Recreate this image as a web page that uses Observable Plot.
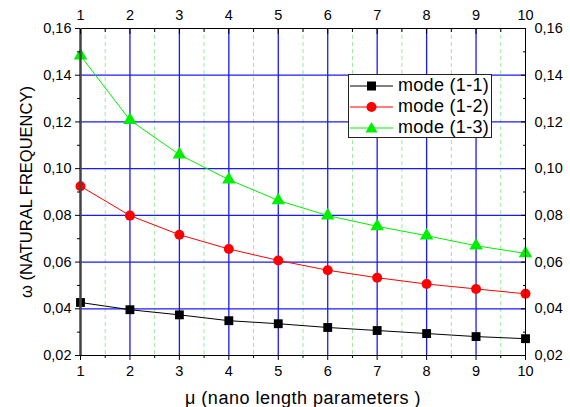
<!DOCTYPE html>
<html><head><meta charset="utf-8">
<script src="https://cdn.jsdelivr.net/npm/d3@7"></script>
<script src="https://cdn.jsdelivr.net/npm/@observablehq/plot@0.6"></script>
<style>
body{margin:0;background:#fff;font-family:"Liberation Sans",Arial,sans-serif;}
#wrap{position:relative;width:570px;height:407px;}
#legend{position:absolute;left:348px;top:74px;width:142px;height:62px;border:1px solid #222;background:#fff;font-size:18px;letter-spacing:0.3px;box-sizing:content-box;}
#legend .row{display:flex;align-items:center;height:21px;}
#legend svg{margin-left:1px;margin-right:5px;}
.xlab{letter-spacing:0.5px;}
</style>
</head><body><div id="wrap"></div>
<script>
const mu = [1,2,3,4,5,6,7,8,9,10];
const mode11 = [0.0427,0.0396,0.0374,0.0349,0.0336,0.0320,0.0307,0.0294,0.0281,0.0272];
const mode12 = [0.0925,0.0799,0.0717,0.0656,0.0607,0.0565,0.0533,0.0506,0.0485,0.0464];
const mode13 = [0.1484,0.1208,0.1060,0.0953,0.0864,0.0799,0.0753,0.0713,0.0670,0.0637];
const seriesNames = ["mode (1-1)","mode (1-2)","mode (1-3)"];
const seriesColors = ["#000000","#ff0000","#00ee00"];
const seriesSymbols = ["square","circle","triangle"];
const xTicks = [1,2,3,4,5,6,7,8,9,10];
const yTicks = [0.02,0.04,0.06,0.08,0.10,0.12,0.14,0.16];
const yMinor = [0.03,0.05,0.07,0.09,0.11,0.13,0.15];
const xMinor = [1.5,2.5,3.5,4.5,5.5,6.5,7.5,8.5,9.5];
const xLabel = "μ (nano length parameters )";
const yLabel = "ω (NATURAL FREQUENCY)";

const allSeries = [mode11,mode12,mode13];
const data = [];
allSeries.forEach((arr,i)=>arr.forEach((v,j)=>data.push({mu:mu[j],w:v,s:seriesNames[i]})));
const fmt = d => d3.format(".2f")(d).replace(".",",");

const plot = Plot.plot({
  width:570, height:407,
  marginLeft:80, marginRight:45, marginTop:28, marginBottom:52,
  style:{fontFamily:"Liberation Sans, Arial, sans-serif", fontSize:"14.5px", color:"#000", background:"#fff"},
  x:{domain:[1,10]},
  y:{domain:[0.02,0.16]},
  color:{domain:seriesNames, range:seriesColors},
  symbol:{domain:seriesNames, range:seriesSymbols},
  marks:[
    Plot.ruleX(xMinor,{stroke:"#9be89b",strokeDasharray:"4,3",strokeWidth:1}),
    Plot.ruleX(xTicks.slice(1,-1),{stroke:"#1a1aff",strokeWidth:1.3}),
    Plot.ruleY(yTicks.slice(1,-1),{stroke:"#1a1aff",strokeWidth:1.3}),
    Plot.line(data,{x:"mu",y:"w",stroke:"s",z:"s",strokeWidth:1}),
    Plot.dot(data,{x:"mu",y:"w",fill:"s",symbol:"s",r:5}),
    Plot.frame({stroke:"#000",strokeWidth:1}),
    Plot.ruleX([1],{stroke:"#444",strokeWidth:2.5}),
    Plot.axisY({anchor:"left",ticks:yTicks,tickFormat:fmt,tickSize:5,tickPadding:4,label:null}),
    Plot.axisY({anchor:"left",ticks:yMinor,tickFormat:()=>"",tickSize:3,label:null}),
    Plot.axisY({anchor:"right",ticks:yTicks,tickFormat:fmt,tickSize:-5,tickPadding:14,label:null}),
    Plot.axisY({anchor:"right",ticks:yMinor,tickFormat:()=>"",tickSize:-3,label:null}),
    Plot.axisX({anchor:"bottom",ticks:xTicks,tickFormat:d=>String(d),tickSize:5,tickPadding:5,label:null}),
    Plot.axisX({anchor:"bottom",ticks:xMinor,tickFormat:()=>"",tickSize:3,label:null}),
    Plot.axisX({anchor:"top",ticks:xTicks,tickFormat:d=>String(d),tickSize:-5,tickPadding:14,label:null}),
    Plot.axisX({anchor:"top",ticks:xMinor,tickFormat:()=>"",tickSize:-3,label:null}),
    Plot.text([xLabel],{text:d=>d,frameAnchor:"bottom",dy:43,lineAnchor:"middle",fontSize:18,className:"xlab"}),
    Plot.text([yLabel],{text:d=>d,frameAnchor:"left",dx:-54,rotate:-90,textAnchor:"middle",lineAnchor:"middle",fontSize:16.5})
  ]
});
const wrap = document.getElementById("wrap");
wrap.appendChild(plot);

const legend = document.createElement("div");
legend.id = "legend";
seriesNames.forEach((n,i)=>{
  const row = document.createElement("div");
  row.className="row";
  const c = seriesColors[i];
  let sym;
  if(seriesSymbols[i]==="square") sym = `<rect x="17" y="5.5" width="9" height="9" fill="${c}"/>`;
  else if(seriesSymbols[i]==="circle") sym = `<circle cx="21.5" cy="10" r="5" fill="${c}"/>`;
  else sym = `<polygon points="21.5,4 27.5,14.5 15.5,14.5" fill="${c}"/>`;
  row.innerHTML = `<svg width="43" height="20"><line x1="0" x2="43" y1="10" y2="10" stroke="${c}" stroke-width="1"/>${sym}</svg><span>${n}</span>`;
  legend.appendChild(row);
});
wrap.appendChild(legend);
</script>
</body></html>
